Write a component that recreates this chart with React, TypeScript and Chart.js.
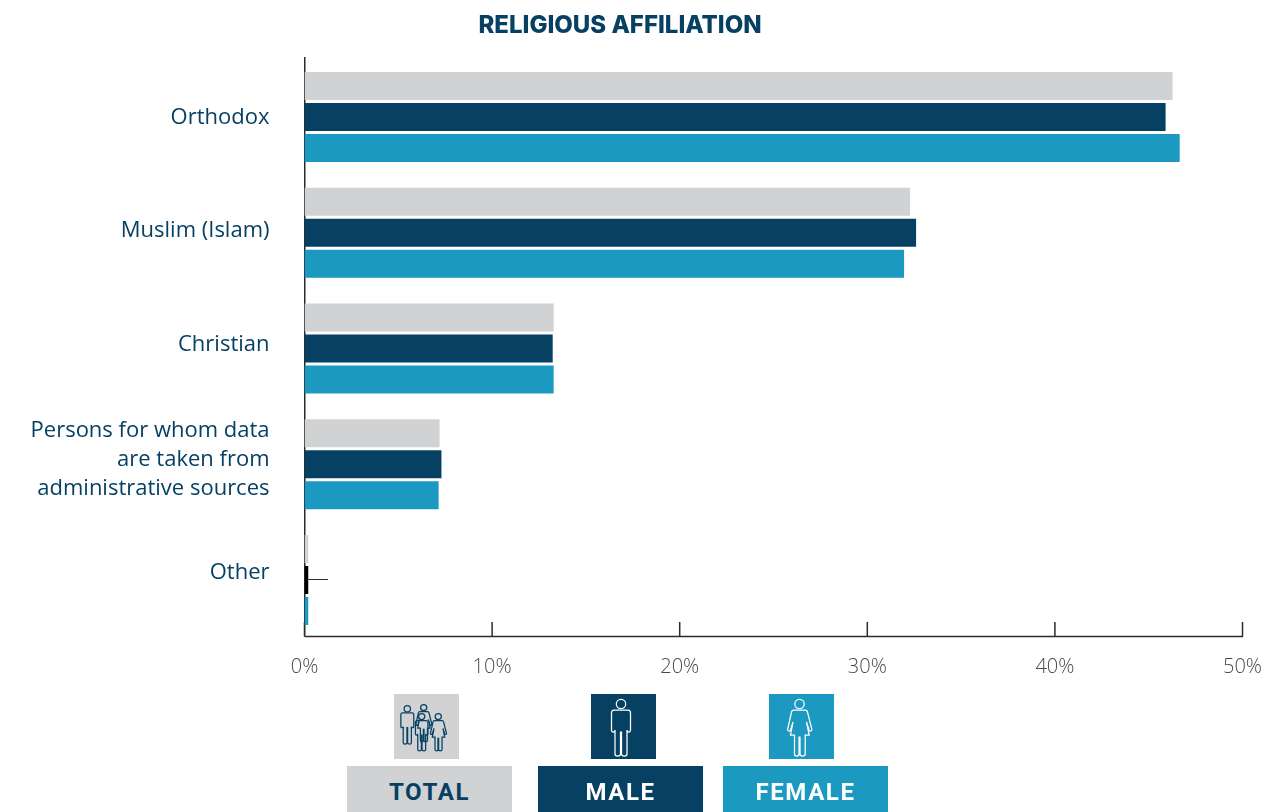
import React, { useEffect, useRef } from "react";
import { Chart, registerables } from "chart.js";

Chart.register(...registerables);

const title = "RELIGIOUS AFFILIATION";
const categories: (string | string[])[] = [
  "Orthodox",
  "Muslim (Islam)",
  "Christian",
  ["Persons for whom data", "are taken from", "administrative sources"],
  "Other",
];
const totalValues = [46.27, 32.28, 13.28, 7.2, 0.2];
const maleValues = [45.9, 32.6, 13.23, 7.3, 0.2];
const femaleValues = [46.65, 31.96, 13.28, 7.15, 0.2];
const xTicks = [0, 10, 20, 30, 40, 50];

const GREY = "#D1D2D4";
const NAVY = "#064063";
const BLUE = "#1B99C1";
const maleColors = [NAVY, NAVY, NAVY, NAVY, "#000000"];
const labelShift = [1, -1.5, -3.5, -5, -7];
const FONT = "'Open Sans', 'Noto Sans', sans-serif";

const axesPlugin = {
  id: "axesPlugin",
  beforeDraw(chart: any) {
    const items = chart.scales.y.getLabelItems();
    items.forEach((item: any, i: number) => {
      if (!item.__shifted) {
        item.options.translation[1] += labelShift[i] ?? 0;
        item.__shifted = true;
      }
    });
  },
  beforeDatasetsDraw(chart: any) {
    const { ctx, scales } = chart;
    const x = scales.x;
    const left = x.getPixelForValue(0);
    const bottom = 636.5;
    ctx.save();
    ctx.strokeStyle = "#2b2b2b";
    ctx.lineWidth = 1.5;
    ctx.beginPath();
    ctx.moveTo(left + 0.25, 57);
    ctx.lineTo(left + 0.25, bottom);
    ctx.moveTo(left, bottom);
    ctx.lineTo(x.getPixelForValue(50) + 0.5, bottom);
    x.ticks.forEach((_: any, i: number) => {
      const px = x.getPixelForTick(i);
      ctx.moveTo(px, 622);
      ctx.lineTo(px, bottom);
    });
    ctx.stroke();
    ctx.restore();
  },
  afterDatasetsDraw(chart: any) {
    const { ctx, scales } = chart;
    const y = scales.y.getPixelForValue(4) - 1;
    ctx.save();
    ctx.strokeStyle = "#2b2b2b";
    ctx.lineWidth = 1;
    ctx.beginPath();
    ctx.moveTo(scales.x.getPixelForValue(0.2), Math.round(y) + 0.5);
    ctx.lineTo(scales.x.getPixelForValue(1.25), Math.round(y) + 0.5);
    ctx.stroke();
    ctx.restore();
  },
};

const MAN =
  "M23 16 H37 Q39.5 16 39.5 19 V36 Q39.5 38 38 38 Q36 38 36 36 V60 Q36 62 33.5 62 Q30.5 62 30.5 60 V38 H29.5 V60 Q29.5 62 26.5 62 Q24 62 24 60 V36 Q24 38 22 38 Q20.5 38 20.5 36 V19 Q20.5 16 23 16 Z";
const WOMAN =
  "M24 16 H36 Q37.5 16 38 18 L42.3 35 Q42.5 37 41 37 Q40 37 39.5 36 L37 28 L39.7 41 H35.7 V60 Q35.7 62 33 62 Q30.5 62 30.5 60 V43 H29.5 V60 Q29.5 62 27.5 62 Q25 62 25 60 V41 H21 L23.5 28 L21 36 Q20.5 37 19.5 37 Q18 37 18.2 35 L22 18 Q22.5 16 24 16 Z";

function Figure({ d, cx, top, s, color }: { d: string; cx: number; top: number; s: number; color: string }) {
  return (
    <g transform={`translate(${cx - 30 * s} ${top - 5.3 * s}) scale(${s})`} fill="none" stroke={color} strokeWidth={1.25 / s}>
      <circle cx={30} cy={10} r={4.7} />
      <path d={d} />
    </g>
  );
}

function Tile({ left, bg, children }: { left: number; bg: string; children: React.ReactNode }) {
  return (
    <svg width={65} height={65} viewBox="0 0 65 65" style={{ position: "absolute", left, top: 694, background: bg, display: "block" }}>
      {children}
    </svg>
  );
}

function Tag({ left, bg, color, text }: { left: number; bg: string; color: string; text: string }) {
  return (
    <div
      style={{
        position: "absolute",
        left,
        top: 766,
        width: 165,
        height: 46,
        background: bg,
        color,
        font: "700 24px Roboto, sans-serif",
        letterSpacing: "1.6px",
        lineHeight: "53px",
        textAlign: "center",
      }}
    >
      {text}
    </div>
  );
}

export default function App() {
  const ref = useRef<HTMLCanvasElement>(null);
  useEffect(() => {
    document.body.style.margin = "0";
    const chart = new Chart(ref.current!, {
      type: "bar",
      data: {
        labels: categories as any,
        datasets: [
          { label: "Total", data: totalValues, backgroundColor: GREY },
          { label: "Male", data: maleValues, backgroundColor: maleColors },
          { label: "Female", data: femaleValues, backgroundColor: BLUE },
        ],
      },
      options: {
        indexAxis: "y",
        responsive: false,
        animation: false,
        categoryPercentage: 93 / 115.75,
        barPercentage: 28 / 31,
        layout: { padding: { top: 59, right: 27, left: 0, bottom: 0 } },
        plugins: { legend: { display: false }, title: { display: false }, tooltip: { enabled: false } },
        scales: {
          x: {
            type: "linear",
            min: 0,
            max: 50,
            afterBuildTicks(s: any) {
              s.ticks = xTicks.map((value) => ({ value }));
            },
            afterFit(s: any) {
              s.height = 174;
            },
            grid: { display: false },
            border: { display: false },
            ticks: {
              callback: (v: any) => `${v}%`,
              color: "#4a4a4a",
              font: { family: FONT, size: 20, weight: "300" as any },
              padding: 9,
              maxRotation: 0,
              autoSkip: false,
            },
          },
          y: {
            type: "category",
            afterFit(s: any) {
              s.width = 304.5;
            },
            grid: { display: false, drawTicks: false },
            border: { display: false },
            ticks: {
              color: NAVY,
              font: { family: FONT, size: 22, lineHeight: 29 / 22 },
              padding: 35,
              autoSkip: false,
            },
          },
        },
      },
      plugins: [axesPlugin],
    } as any);
    return () => chart.destroy();
  }, []);

  return (
    <div style={{ position: "relative", width: 1271, height: 812, overflow: "hidden", background: "#fff" }}>
      <canvas ref={ref} width={1271} height={812} style={{ position: "absolute", left: 0, top: 0 }} />
      <div
        style={{
          position: "absolute",
          left: 420,
          width: 400,
          top: 10,
          textAlign: "center",
          color: NAVY,
          font: "800 24px/30px Inter, sans-serif",
          whiteSpace: "nowrap",
        }}
      >
        {title}
      </div>
      <Tile left={394} bg={GREY}>
        <Figure d={WOMAN} cx={29.7} top={10.5} s={0.66} color={NAVY} />
        <Figure d={MAN} cx={13.3} top={11.5} s={0.68} color={NAVY} />
        <Figure d={MAN} cx={27.7} top={19.5} s={0.66} color={NAVY} />
        <Figure d={WOMAN} cx={44.3} top={19.5} s={0.66} color={NAVY} />
      </Tile>
      <Tile left={591} bg={NAVY}>
        <Figure d={MAN} cx={30} top={5.3} s={1} color="#fff" />
      </Tile>
      <Tile left={769} bg={BLUE}>
        <Figure d={WOMAN} cx={30.5} top={5.3} s={1} color="#fff" />
      </Tile>
      <Tag left={347} bg={GREY} color={NAVY} text="TOTAL" />
      <Tag left={538} bg={NAVY} color="#fff" text="MALE" />
      <Tag left={723} bg={BLUE} color="#fff" text="FEMALE" />
    </div>
  );
}
